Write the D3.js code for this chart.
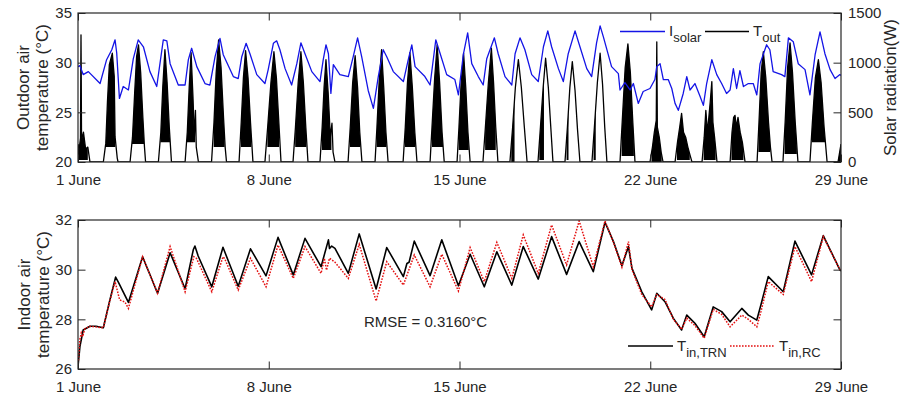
<!DOCTYPE html>
<html>
<head>
<meta charset="utf-8">
<title>outdoor / indoor air temperature</title>
<script src="https://cdnjs.cloudflare.com/ajax/libs/d3/7.8.5/d3.min.js"></script>
<style>
body { margin: 0; background: #fff; }
svg { font-family: "Liberation Sans", Arial, Helvetica, sans-serif; }
.axis text { font-size: 15px; fill: #262626; }
.axis line { stroke: #262626; stroke-width: 1; }
.axis path { display: none; }
.frame { fill: none; stroke: #262626; stroke-width: 1.2; }
.lab { font-size: 17px; fill: #262626; }
.leg { font-size: 15px; fill: #262626; }
</style>
</head>
<body>
<svg width="902" height="397"></svg>
<script>

// x axis: days after 1 June 00:00
var dayTicks = [0, 7, 14, 21, 28];
var dayLabels = ["1 June", "8 June", "15 June", "22 June", "29 June"];
var outTicks = [20, 25, 30, 35];
var solarTicks = [0, 500, 1000, 1500];
var inTicks = [26, 28, 30, 32];

// blue line of the top panel (legend: I_solar), [day, value]
var outdoorTemp = [[0,29.6],[0.07,29.7],[0.19,28.8],[0.38,29.1],[0.81,27.9],[1.05,30.3],[1.24,31.3],[1.36,32.3],[1.42,31.0],[1.52,26.4],[1.66,27.6],[1.85,27.25],[2.03,30.4],[2.21,32.3],[2.40,31.6],[2.64,29.1],[2.89,27.6],[3.13,32.3],[3.26,32.2],[3.38,29.9],[3.68,27.75],[3.93,27.75],[4.05,30.3],[4.17,31.45],[4.36,29.6],[4.66,27.9],[4.84,27.75],[5.03,30.6],[5.21,32.45],[5.33,30.8],[5.70,28.6],[5.88,28.4],[6.01,30.6],[6.17,31.95],[6.31,30.9],[6.56,28.8],[6.86,27.9],[6.98,29.3],[7.17,31.95],[7.29,32.2],[7.41,31.3],[7.60,29.4],[7.84,27.75],[8.03,29.9],[8.18,32.0],[8.33,30.9],[8.58,29.1],[8.88,28.1],[9.00,30.3],[9.10,31.8],[9.19,30.9],[9.28,26.9],[9.37,29.8],[9.61,28.8],[9.92,28.6],[10.10,30.6],[10.26,32.5],[10.41,30.6],[10.65,27.2],[10.84,25.4],[11.02,28.6],[11.20,31.3],[11.33,30.6],[11.57,29.1],[11.94,28.1],[12.12,30.3],[12.25,31.8],[12.37,29.6],[12.73,28.6],[12.92,27.75],[13.13,32.3],[13.28,31.0],[13.53,28.8],[13.83,28.3],[13.96,26.75],[14.14,30.8],[14.30,33.0],[14.45,29.9],[14.69,28.6],[14.87,27.75],[15.00,30.4],[15.28,32.5],[15.42,30.9],[15.67,28.6],[15.92,27.75],[16.04,30.9],[16.22,32.5],[16.40,31.3],[16.65,28.8],[16.89,28.1],[17.08,31.6],[17.24,33.2],[17.38,31.6],[17.63,29.4],[17.81,28.1],[17.99,30.9],[18.24,33.2],[18.42,31.6],[18.67,29.4],[18.85,28.6],[19.03,32.0],[19.16,33.7],[19.28,32.6],[19.58,29.6],[19.83,28.9],[19.89,27.25],[20.07,28.0],[20.26,27.25],[20.38,27.9],[20.56,25.9],[20.74,27.1],[20.99,27.4],[21.17,28.3],[21.24,29.6],[21.36,29.9],[21.48,28.3],[21.66,28.3],[21.79,27.4],[21.91,25.9],[22.03,25.2],[22.21,26.9],[22.34,28.6],[22.46,27.25],[22.64,27.9],[22.83,26.6],[22.95,25.7],[23.07,27.9],[23.26,30.3],[23.44,28.8],[23.62,27.9],[23.80,26.9],[23.93,27.25],[24.05,29.4],[24.17,27.4],[24.29,29.2],[24.42,27.6],[24.60,27.9],[24.78,27.9],[24.91,26.75],[25.03,29.9],[25.27,31.8],[25.39,31.3],[25.51,29.1],[25.82,28.8],[25.94,28.6],[26.07,32.5],[26.25,32.1],[26.43,29.9],[26.68,29.3],[26.86,26.75],[27.05,30.8],[27.23,33.1],[27.41,30.9],[27.60,29.3],[27.78,28.4],[27.96,28.8],[28.0,28.7]];

// black daily humps of the top panel (legend: T_out), [day, W]
var solarHumps = [
  [[0.00,180],[0.04,120],[0.09,240],[0.11,1280],[0.13,220],[0.20,300],[0.28,130],[0.36,150],[0.44,0]],
  [[0.93,0],[1.02,190],[1.08,600],[1.15,980],[1.26,1095],[1.33,860],[1.36,255],[1.44,40],[1.47,0]],
  [[1.91,0],[2.00,250],[2.08,700],[2.15,1060],[2.22,1180],[2.30,900],[2.38,450],[2.44,150],[2.48,0]],
  [[2.95,0],[3.04,300],[3.11,750],[3.19,1130],[3.27,800],[3.35,350],[3.43,0]],
  [[3.93,0],[4.01,300],[4.08,750],[4.15,1100],[4.22,650],[4.27,250],[4.31,520],[4.34,150],[4.42,0]],
  [[4.90,0],[4.99,400],[5.07,900],[5.16,1230],[5.25,950],[5.34,450],[5.40,150],[5.45,0]],
  [[5.91,0],[5.99,400],[6.07,850],[6.15,1120],[6.24,850],[6.33,400],[6.42,0]],
  [[6.86,0],[6.96,350],[7.08,800],[7.19,1110],[7.28,850],[7.37,400],[7.45,0]],
  [[7.89,0],[7.98,350],[8.08,800],[8.18,1110],[8.27,800],[8.36,350],[8.44,0]],
  [[8.88,0],[8.96,350],[9.03,750],[9.10,1030],[9.18,700],[9.26,250],[9.32,390],[9.36,100],[9.43,0]],
  [[9.91,0],[9.99,350],[10.08,800],[10.17,1070],[10.26,750],[10.34,300],[10.42,0]],
  [[10.90,0],[10.97,350],[11.05,800],[11.14,1130],[11.22,750],[11.30,300],[11.38,0]],
  [[11.93,0],[12.01,350],[12.09,800],[12.18,1100],[12.27,750],[12.36,300],[12.44,0]],
  [[12.92,0],[13.00,400],[13.09,850],[13.18,1180],[13.27,800],[13.36,300],[13.44,0]],
  [[13.91,0],[13.98,350],[14.06,800],[14.15,1095],[14.23,750],[14.31,300],[14.39,0]],
  [[14.86,0],[14.95,350],[15.06,800],[15.17,1145],[15.25,800],[15.33,350],[15.41,0]],
  [[15.85,0],[15.95,350],[16.05,750],[16.16,1030],[16.27,750],[16.38,350],[16.48,0]],
  [[16.88,0],[16.97,350],[17.07,750],[17.16,1045],[17.26,750],[17.35,350],[17.43,0]],
  [[17.87,0],[17.96,350],[18.05,750],[18.14,1010],[18.24,720],[18.33,330],[18.42,0]],
  [[18.86,0],[18.95,350],[19.06,800],[19.16,1095],[19.25,780],[19.33,350],[19.41,0]],
  [[19.89,0],[19.97,400],[20.08,950],[20.18,1190],[20.27,900],[20.36,400],[20.44,0]],
  [[20.99,0],[21.08,150],[21.15,300],[21.22,420],[21.24,1210],[21.26,350],[21.33,250],[21.40,100],[21.47,0]],
  [[21.91,0],[22.00,200],[22.08,350],[22.15,490],[22.22,300],[22.30,250],[22.38,150],[22.45,80],[22.53,0]],
  [[22.90,0],[22.98,250],[23.04,520],[23.10,300],[23.20,600],[23.26,810],[23.30,400],[23.36,250],[23.45,0]],
  [[23.93,0],[24.00,300],[24.06,450],[24.11,470],[24.16,350],[24.22,450],[24.30,300],[24.38,200],[24.48,0]],
  [[24.92,0],[24.99,400],[25.07,900],[25.15,1110],[25.24,850],[25.34,400],[25.41,150],[25.47,0]],
  [[25.87,0],[25.95,400],[26.04,950],[26.13,1200],[26.22,900],[26.32,400],[26.42,0]],
  [[26.86,0],[26.95,400],[27.06,850],[27.17,1030],[27.27,800],[27.38,350],[27.49,0]],
  [[27.89,0],[28.00,180]]
];

// dense (oscillating) part of each hump: [from day, to day, lower W]
var solarDense = [[0.00,0.36,20],[1.00,1.37,150],[1.98,2.42,180],[3.02,3.38,200],[4.00,4.30,200],[4.98,5.38,150],[5.98,6.36,150],[6.95,7.38,150],[7.97,8.38,150],[8.95,9.30,120],[9.98,10.36,150],[10.96,11.32,150],[12.00,12.38,150],[12.99,13.40,150],[13.97,14.34,120],[14.94,15.33,120],[15.90,16.02,0],[16.93,17.10,20],[17.93,18.00,20],[18.92,19.00,20],[19.95,20.40,60],[21.05,21.42,0],[21.98,22.45,20],[22.96,23.40,20],[23.98,24.42,20],[24.97,25.40,100],[25.93,26.38,80],[26.93,27.44,200],[27.89,28.00,0]];

// bottom panel, [day, degC]
var tinTRN = [[0,26.1],[0.07,26.9],[0.19,27.57],[0.44,27.72],[0.66,27.72],[0.93,27.66],[1.17,28.78],[1.38,29.7],[1.48,29.5],[1.85,28.68],[2.37,30.52],[2.92,29.05],[3.38,30.68],[3.93,29.23],[4.23,30.8],[4.29,30.95],[4.41,30.55],[4.91,29.31],[5.32,30.9],[5.88,29.33],[6.33,30.84],[6.90,29.75],[7.34,31.3],[7.90,29.79],[8.33,31.26],[8.92,30.12],[9.19,31.2],[9.23,30.85],[9.31,30.95],[9.43,30.86],[9.92,29.85],[10.32,31.44],[10.94,29.22],[11.33,30.89],[11.94,29.72],[12.07,30.25],[12.15,30.3],[12.34,31.15],[12.92,29.76],[13.35,31.2],[13.96,29.35],[14.39,30.62],[14.91,29.31],[15.37,30.72],[15.92,29.38],[16.34,30.93],[16.89,29.62],[17.38,31.33],[17.93,29.81],[18.39,31.13],[18.91,29.92],[19.34,31.91],[19.65,31.13],[19.96,30.16],[20.20,30.93],[20.33,30.05],[20.69,29.11],[21.05,28.38],[21.24,29.05],[21.54,28.71],[21.85,28.04],[22.15,27.57],[22.34,28.17],[22.64,27.84],[22.98,27.3],[23.31,28.5],[23.62,28.31],[23.93,27.9],[24.36,28.44],[24.60,28.17],[24.91,27.97],[25.06,28.58],[25.33,29.72],[25.88,29.11],[26.31,31.15],[26.92,29.79],[27.35,31.37],[27.96,29.99],[28.0,29.95]];
var tinRC = [[0,26.1],[0.07,27.2],[0.12,27.45],[0.17,27.3],[0.25,27.62],[0.44,27.72],[0.93,27.66],[1.17,28.75],[1.36,29.52],[1.53,28.78],[1.72,28.7],[1.85,28.44],[2.37,30.52],[2.92,29.05],[3.38,30.93],[3.93,29.11],[4.25,30.52],[4.35,30.45],[4.91,29.11],[5.32,30.52],[5.38,30.45],[5.88,29.18],[6.33,30.46],[6.90,29.31],[7.34,30.99],[7.90,29.65],[8.33,30.93],[8.92,29.85],[9.04,30.46],[9.12,29.98],[9.23,30.46],[9.43,30.3],[9.92,29.65],[10.32,31.02],[10.94,28.74],[11.33,30.32],[11.94,29.38],[12.34,30.59],[12.92,29.31],[13.35,30.62],[13.96,29.14],[14.39,30.89],[14.91,29.52],[15.37,31.1],[15.92,29.65],[16.34,31.4],[16.89,29.85],[17.38,31.8],[17.93,30.19],[18.39,31.96],[18.91,30.12],[19.34,31.96],[19.65,31.1],[19.96,30.1],[20.20,31.13],[20.33,30.0],[20.69,29.0],[21.05,28.5],[21.24,29.0],[21.54,28.8],[21.85,28.0],[22.15,27.6],[22.34,28.05],[22.64,27.75],[22.98,27.24],[23.31,28.4],[23.62,28.2],[23.93,27.7],[24.36,28.17],[24.60,28.0],[24.91,27.7],[25.06,28.3],[25.33,29.52],[25.88,29.0],[26.31,30.93],[26.92,29.52],[27.35,31.33],[27.96,30.0],[28.0,29.95]];

var svg = d3.select("svg"),
    margin = {left: 78, right: 61},
    width = +svg.attr("width") - margin.left - margin.right,
    h = 149,
    top1 = 13,
    top2 = 220,
    tick = 7.5,
    plain = d3.format("d");

var x = d3.scaleLinear().domain([0, 28]).range([0, width]),
    yOut = d3.scaleLinear().domain([20, 35]).range([h, 0]),
    ySol = d3.scaleLinear().domain([0, 1500]).range([h, 0]),
    yIn = d3.scaleLinear().domain([26, 32]).range([h, 0]);

var defs = svg.append("defs");
defs.append("clipPath").attr("id", "plot")
  .append("rect").attr("width", width).attr("height", h);

var g1 = svg.append("g").attr("transform", "translate(" + margin.left + "," + top1 + ")");
var g2 = svg.append("g").attr("transform", "translate(" + margin.left + "," + top2 + ")");

function xAxes(g) {
  g.append("g").attr("class", "axis")
    .attr("transform", "translate(0," + h + ")")
    .call(d3.axisBottom(x).tickValues(dayTicks).tickSizeInner(-tick).tickSizeOuter(0).tickPadding(12)
      .tickFormat(function(d, i) { return dayLabels[i]; }));
  g.append("g").attr("class", "axis")
    .call(d3.axisTop(x).tickValues(dayTicks).tickSizeInner(-tick).tickSizeOuter(0).tickFormat(""));
}

// ---- top panel ----
var plot1 = g1.append("g").attr("clip-path", "url(#plot)");

var solarLine = d3.line().x(function(d) { return x(d[0]); }).y(function(d) { return ySol(d[1]); });
var solarArea = d3.area().x(function(d) { return x(d[0]); }).y0(h).y1(function(d) { return ySol(d[1]); });

solarHumps.forEach(function(hump, i) {
  var band = solarDense[i];
  defs.append("clipPath").attr("id", "dense" + i)
    .append("rect")
      .attr("x", x(band[0]))
      .attr("y", 0)
      .attr("width", x(band[1]) - x(band[0]))
      .attr("height", ySol(band[2]));
  plot1.append("path")
    .attr("d", solarArea(hump))
    .attr("clip-path", "url(#dense" + i + ")")
    .attr("fill", "#000");
});

var allSolar = [];
solarHumps.forEach(function(hump) { allSolar = allSolar.concat(hump); });
plot1.append("path")
  .attr("d", solarLine(allSolar))
  .attr("fill", "none")
  .attr("stroke", "#000")
  .attr("stroke-width", 1.3)
  .attr("stroke-linejoin", "round");

plot1.append("path")
  .attr("d", d3.line().x(function(d) { return x(d[0]); }).y(function(d) { return yOut(d[1]); })(outdoorTemp))
  .attr("fill", "none")
  .attr("stroke", "#1414e6")
  .attr("stroke-width", 1.3)
  .attr("stroke-linejoin", "round");

xAxes(g1);
g1.append("g").attr("class", "axis")
  .call(d3.axisLeft(yOut).tickValues(outTicks).tickSizeInner(-tick).tickSizeOuter(0).tickPadding(6).tickFormat(plain));
g1.append("g").attr("class", "axis")
  .attr("transform", "translate(" + width + ",0)")
  .call(d3.axisRight(ySol).tickValues(solarTicks).tickSizeInner(-tick).tickSizeOuter(0).tickPadding(7).tickFormat(plain));
g1.append("rect").attr("class", "frame").attr("width", width).attr("height", h);

// legend
function legendItem(g, x0, y0, len, color, dash, main, sub) {
  g.append("line")
    .attr("x1", x0).attr("x2", x0 + len).attr("y1", y0).attr("y2", y0)
    .attr("stroke", color).attr("stroke-width", 1.5)
    .attr("stroke-dasharray", dash);
  var t = g.append("text").attr("class", "leg")
    .attr("x", x0 + len + 4).attr("y", y0 + 4.5);
  t.append("tspan").text(main);
  t.append("tspan").attr("dy", 6).style("font-size", "13px").text(sub);
}
legendItem(svg, 620, 31.5, 45, "#1414e6", null, "I", "solar");
legendItem(svg, 705, 31.5, 44, "#000", null, "T", "out");

// ---- bottom panel ----
var plot2 = g2.append("g").attr("clip-path", "url(#plot)");
var inLine = d3.line().x(function(d) { return x(d[0]); }).y(function(d) { return yIn(d[1]); });

plot2.append("path")
  .attr("d", inLine(tinTRN))
  .attr("fill", "none")
  .attr("stroke", "#000")
  .attr("stroke-width", 1.6)
  .attr("stroke-linejoin", "round");
plot2.append("path")
  .attr("d", inLine(tinRC))
  .attr("fill", "none")
  .attr("stroke", "#e41010")
  .attr("stroke-width", 1.5)
  .attr("stroke-dasharray", "1.6,1.4");

xAxes(g2);
g2.append("g").attr("class", "axis")
  .call(d3.axisLeft(yIn).tickValues(inTicks).tickSizeInner(-tick).tickSizeOuter(0).tickPadding(6).tickFormat(plain));
g2.append("g").attr("class", "axis")
  .attr("transform", "translate(" + width + ",0)")
  .call(d3.axisRight(yIn).tickValues(inTicks).tickSizeInner(-tick).tickSizeOuter(0).tickFormat(""));
g2.append("rect").attr("class", "frame").attr("width", width).attr("height", h);

g2.append("text").attr("class", "leg")
  .attr("x", 364 - margin.left).attr("y", 327 - top2)
  .text("RMSE = 0.3160°C");

legendItem(svg, 628, 346, 45, "#000", null, "T", "in,TRN");
legendItem(svg, 730, 346, 45, "#e41010", "1.6,1.4", "T", "in,RC");

// axis titles
function yTitle(cx, cy, lines) {
  lines.forEach(function(s, i) {
    svg.append("text").attr("class", "lab")
      .attr("text-anchor", "middle")
      .attr("transform", "translate(" + (cx + i * 19) + "," + cy + ") rotate(-90)")
      .text(s);
  });
}
yTitle(29, top1 + h / 2, ["Outdoor air", "temperature (°C)"]);
yTitle(30, top2 + h / 2, ["Indoor air", "temperature (°C)"]);
yTitle(896, top1 + h / 2, ["Solar radiation(W)"]);

</script>
</body>
</html>
